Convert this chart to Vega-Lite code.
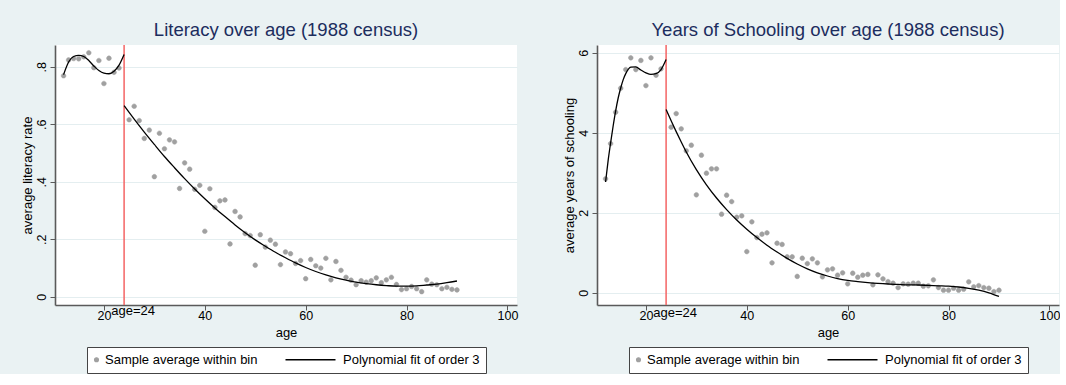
{
  "$schema": "https://vega.github.io/schema/vega-lite/v6.json",
  "background": "#EAF2F3",
  "padding": {"left": 21, "top": 20, "right": 0, "bottom": 0},
  "bounds": "flush",
  "spacing": 80,
  "resolve": {"scale": {"color": "independent", "shape": "independent"}, "legend": {"color": "independent", "shape": "independent"}},
  "config": {
    "font": "Liberation Sans",
    "view": {"fill": "white", "stroke": null},
    "title": {"font": "Liberation Sans", "fontSize": 18.5, "fontWeight": "normal", "color": "#1C2D5E", "anchor": "middle", "frame": "group", "offset": 5},
    "axis": {"labelFont": "Liberation Sans", "labelFontSize": 12.5, "labelColor": "black", "titleFont": "Liberation Sans", "titleFontSize": 13, "titleFontWeight": "normal", "titleColor": "black", "domainColor": "#5A5A5A", "domainWidth": 1.6, "tickColor": "#5A5A5A", "tickSize": 5, "tickWidth": 1},
    "axisX": {"grid": false, "labelPadding": -1, "titlePadding": 5},
    "axisY": {"grid": true, "gridColor": "#E4EEF0", "gridWidth": 1.2, "labelAngle": -90, "labelAlign": "center", "labelBaseline": "bottom", "labelPadding": 2, "titlePadding": 1},
    "legend": {"orient": "bottom", "direction": "horizontal", "labelFont": "Liberation Sans", "labelFontSize": 13, "labelColor": "black", "strokeColor": "#444444", "fillColor": "white", "padding": 6, "symbolSize": 100, "symbolStrokeWidth": 1.3, "symbolOffset": -3, "labelOffset": 2, "columnPadding": 24, "offset": 7, "layout": {"bottom": {"anchor": "middle"}}}
  },
  "datasets": {
    "lit_pts": [
      {"age": 12, "v": 0.769}, {"age": 13, "v": 0.824}, {"age": 14, "v": 0.829}, {"age": 15, "v": 0.828}, {"age": 16, "v": 0.835}, {"age": 17, "v": 0.849}, {"age": 18, "v": 0.797}, {"age": 19, "v": 0.822}, {"age": 20, "v": 0.742}, {"age": 21, "v": 0.830}, {"age": 22, "v": 0.781}, {"age": 23, "v": 0.796},
      {"age": 25, "v": 0.616}, {"age": 26, "v": 0.663}, {"age": 27, "v": 0.613}, {"age": 28, "v": 0.551}, {"age": 29, "v": 0.580}, {"age": 30, "v": 0.418}, {"age": 31, "v": 0.569}, {"age": 32, "v": 0.515}, {"age": 33, "v": 0.546}, {"age": 34, "v": 0.539},
      {"age": 35, "v": 0.377}, {"age": 36, "v": 0.466}, {"age": 37, "v": 0.444}, {"age": 38, "v": 0.374}, {"age": 39, "v": 0.388}, {"age": 40, "v": 0.228}, {"age": 41, "v": 0.376}, {"age": 42, "v": 0.311}, {"age": 43, "v": 0.334}, {"age": 44, "v": 0.337},
      {"age": 45, "v": 0.184}, {"age": 46, "v": 0.297}, {"age": 47, "v": 0.278}, {"age": 48, "v": 0.220}, {"age": 49, "v": 0.213}, {"age": 50, "v": 0.110}, {"age": 51, "v": 0.216}, {"age": 52, "v": 0.173}, {"age": 53, "v": 0.197}, {"age": 54, "v": 0.183},
      {"age": 55, "v": 0.112}, {"age": 56, "v": 0.156}, {"age": 57, "v": 0.150}, {"age": 58, "v": 0.116}, {"age": 59, "v": 0.126}, {"age": 60, "v": 0.063}, {"age": 61, "v": 0.130}, {"age": 62, "v": 0.108}, {"age": 63, "v": 0.100}, {"age": 64, "v": 0.134},
      {"age": 65, "v": 0.059}, {"age": 66, "v": 0.123}, {"age": 67, "v": 0.092}, {"age": 68, "v": 0.068}, {"age": 69, "v": 0.058}, {"age": 70, "v": 0.042}, {"age": 71, "v": 0.056}, {"age": 72, "v": 0.051}, {"age": 73, "v": 0.056}, {"age": 74, "v": 0.066},
      {"age": 75, "v": 0.049}, {"age": 76, "v": 0.059}, {"age": 77, "v": 0.068}, {"age": 78, "v": 0.043}, {"age": 79, "v": 0.025}, {"age": 80, "v": 0.028}, {"age": 81, "v": 0.036}, {"age": 82, "v": 0.028}, {"age": 83, "v": 0.018}, {"age": 84, "v": 0.059},
      {"age": 85, "v": 0.044}, {"age": 86, "v": 0.042}, {"age": 87, "v": 0.028}, {"age": 88, "v": 0.033}, {"age": 89, "v": 0.026}, {"age": 90, "v": 0.024}
    ],
    "lit_fit": [
      {"age": 12, "v": 0.773, "side": "below"}, {"age": 13, "v": 0.817, "side": "below"}, {"age": 14, "v": 0.836, "side": "below"}, {"age": 15, "v": 0.840, "side": "below"}, {"age": 16, "v": 0.836, "side": "below"}, {"age": 17, "v": 0.822, "side": "below"}, {"age": 18, "v": 0.803, "side": "below"}, {"age": 19, "v": 0.787, "side": "below"}, {"age": 20, "v": 0.778, "side": "below"}, {"age": 21, "v": 0.776, "side": "below"}, {"age": 22, "v": 0.785, "side": "below"}, {"age": 23, "v": 0.806, "side": "below"}, {"age": 24, "v": 0.843, "side": "below"},
      {"age": 24, "v": 0.665, "side": "above"}, {"age": 26, "v": 0.618, "side": "above"}, {"age": 28, "v": 0.573, "side": "above"}, {"age": 30, "v": 0.530, "side": "above"}, {"age": 32, "v": 0.488, "side": "above"}, {"age": 34, "v": 0.449, "side": "above"}, {"age": 36, "v": 0.411, "side": "above"}, {"age": 38, "v": 0.375, "side": "above"}, {"age": 40, "v": 0.341, "side": "above"}, {"age": 42, "v": 0.309, "side": "above"}, {"age": 44, "v": 0.279, "side": "above"}, {"age": 46, "v": 0.250, "side": "above"}, {"age": 48, "v": 0.223, "side": "above"}, {"age": 50, "v": 0.198, "side": "above"}, {"age": 52, "v": 0.176, "side": "above"}, {"age": 54, "v": 0.155, "side": "above"}, {"age": 56, "v": 0.136, "side": "above"}, {"age": 58, "v": 0.118, "side": "above"}, {"age": 60, "v": 0.102, "side": "above"}, {"age": 62, "v": 0.088, "side": "above"}, {"age": 64, "v": 0.076, "side": "above"}, {"age": 66, "v": 0.066, "side": "above"}, {"age": 68, "v": 0.058, "side": "above"}, {"age": 70, "v": 0.051, "side": "above"}, {"age": 72, "v": 0.046, "side": "above"}, {"age": 74, "v": 0.042, "side": "above"}, {"age": 76, "v": 0.039, "side": "above"}, {"age": 78, "v": 0.037, "side": "above"}, {"age": 80, "v": 0.037, "side": "above"}, {"age": 82, "v": 0.038, "side": "above"}, {"age": 84, "v": 0.041, "side": "above"}, {"age": 86, "v": 0.044, "side": "above"}, {"age": 88, "v": 0.049, "side": "above"}, {"age": 90, "v": 0.055, "side": "above"}
    ],
    "sch_pts": [
      {"age": 12, "v": 2.85}, {"age": 13, "v": 3.73}, {"age": 14, "v": 4.515}, {"age": 15, "v": 5.115}, {"age": 16, "v": 5.58}, {"age": 17, "v": 5.875}, {"age": 18, "v": 5.58}, {"age": 19, "v": 5.81}, {"age": 20, "v": 5.18}, {"age": 21, "v": 5.875}, {"age": 22, "v": 5.44}, {"age": 23, "v": 5.60},
      {"age": 25, "v": 4.14}, {"age": 26, "v": 4.48}, {"age": 27, "v": 4.10}, {"age": 28, "v": 3.55}, {"age": 29, "v": 3.69}, {"age": 30, "v": 2.45}, {"age": 31, "v": 3.44}, {"age": 32, "v": 2.99}, {"age": 33, "v": 3.10}, {"age": 34, "v": 3.10},
      {"age": 35, "v": 1.965}, {"age": 36, "v": 2.44}, {"age": 37, "v": 2.28}, {"age": 38, "v": 1.89}, {"age": 39, "v": 1.925}, {"age": 40, "v": 1.03}, {"age": 41, "v": 1.775}, {"age": 42, "v": 1.38}, {"age": 43, "v": 1.465}, {"age": 44, "v": 1.50},
      {"age": 45, "v": 0.75}, {"age": 46, "v": 1.24}, {"age": 47, "v": 1.21}, {"age": 48, "v": 0.90}, {"age": 49, "v": 0.90}, {"age": 50, "v": 0.41}, {"age": 51, "v": 0.865}, {"age": 52, "v": 0.73}, {"age": 53, "v": 0.85}, {"age": 54, "v": 0.75},
      {"age": 55, "v": 0.40}, {"age": 56, "v": 0.575}, {"age": 57, "v": 0.60}, {"age": 58, "v": 0.44}, {"age": 59, "v": 0.50}, {"age": 60, "v": 0.225}, {"age": 61, "v": 0.49}, {"age": 62, "v": 0.39}, {"age": 63, "v": 0.44}, {"age": 64, "v": 0.46},
      {"age": 65, "v": 0.20}, {"age": 66, "v": 0.45}, {"age": 67, "v": 0.35}, {"age": 68, "v": 0.28}, {"age": 69, "v": 0.24}, {"age": 70, "v": 0.13}, {"age": 71, "v": 0.225}, {"age": 72, "v": 0.215}, {"age": 73, "v": 0.24}, {"age": 74, "v": 0.24},
      {"age": 75, "v": 0.165}, {"age": 76, "v": 0.175}, {"age": 77, "v": 0.325}, {"age": 78, "v": 0.13}, {"age": 79, "v": 0.065}, {"age": 80, "v": 0.065}, {"age": 81, "v": 0.115}, {"age": 82, "v": 0.065}, {"age": 83, "v": 0.09}, {"age": 84, "v": 0.275},
      {"age": 85, "v": 0.15}, {"age": 86, "v": 0.18}, {"age": 87, "v": 0.13}, {"age": 88, "v": 0.115}, {"age": 89, "v": 0.03}, {"age": 90, "v": 0.065}
    ],
    "sch_fit": [
      {"age": 12, "v": 2.77, "side": "below"}, {"age": 12.5, "v": 3.30, "side": "below"}, {"age": 13, "v": 3.75, "side": "below"}, {"age": 13.5, "v": 4.17, "side": "below"}, {"age": 14, "v": 4.55, "side": "below"}, {"age": 14.5, "v": 4.87, "side": "below"}, {"age": 15, "v": 5.12, "side": "below"}, {"age": 15.5, "v": 5.33, "side": "below"}, {"age": 16, "v": 5.48, "side": "below"}, {"age": 17, "v": 5.64, "side": "below"}, {"age": 18, "v": 5.65, "side": "below"}, {"age": 19, "v": 5.57, "side": "below"}, {"age": 20, "v": 5.50, "side": "below"}, {"age": 21, "v": 5.46, "side": "below"}, {"age": 22, "v": 5.48, "side": "below"}, {"age": 23, "v": 5.58, "side": "below"}, {"age": 24, "v": 5.83, "side": "below"},
      {"age": 24, "v": 4.58, "side": "above"}, {"age": 25, "v": 4.30, "side": "above"}, {"age": 26, "v": 4.03, "side": "above"}, {"age": 27, "v": 3.77, "side": "above"}, {"age": 28, "v": 3.52, "side": "above"}, {"age": 30, "v": 3.08, "side": "above"}, {"age": 32, "v": 2.70, "side": "above"}, {"age": 34, "v": 2.37, "side": "above"}, {"age": 36, "v": 2.08, "side": "above"}, {"age": 38, "v": 1.82, "side": "above"}, {"age": 40, "v": 1.59, "side": "above"}, {"age": 42, "v": 1.38, "side": "above"}, {"age": 44, "v": 1.19, "side": "above"}, {"age": 46, "v": 1.02, "side": "above"}, {"age": 48, "v": 0.86, "side": "above"}, {"age": 50, "v": 0.72, "side": "above"}, {"age": 52, "v": 0.60, "side": "above"}, {"age": 54, "v": 0.50, "side": "above"}, {"age": 56, "v": 0.42, "side": "above"}, {"age": 58, "v": 0.355, "side": "above"}, {"age": 60, "v": 0.31, "side": "above"}, {"age": 62, "v": 0.28, "side": "above"}, {"age": 64, "v": 0.255, "side": "above"}, {"age": 66, "v": 0.235, "side": "above"}, {"age": 68, "v": 0.22, "side": "above"}, {"age": 70, "v": 0.21, "side": "above"}, {"age": 72, "v": 0.20, "side": "above"}, {"age": 74, "v": 0.195, "side": "above"}, {"age": 76, "v": 0.185, "side": "above"}, {"age": 78, "v": 0.175, "side": "above"}, {"age": 80, "v": 0.165, "side": "above"}, {"age": 82, "v": 0.145, "side": "above"}, {"age": 84, "v": 0.11, "side": "above"}, {"age": 86, "v": 0.065, "side": "above"}, {"age": 88, "v": 0.0, "side": "above"}, {"age": 90, "v": -0.09, "side": "above"}
    ]
  },
  "hconcat": [
    {
      "width": 462,
      "height": 260,
      "title": {"text": "Literacy over age (1988 census)"},
      "layer": [
        {
          "data": {"name": "lit_pts"},
          "mark": {"type": "point", "filled": false, "fill": "#A0A0A0", "fillOpacity": 1, "strokeWidth": 0.5, "size": 153, "opacity": 1},
          "encoding": {
            "x": {"field": "age", "type": "quantitative", "title": "age", "scale": {"domain": [10.3, 101.9], "nice": false, "zero": false}, "axis": {"values": [20, 40, 60, 80, 100]}},
            "y": {"field": "v", "type": "quantitative", "title": "average literacy rate", "scale": {"domain": [-0.0285, 0.876], "nice": false, "zero": false}, "axis": {"values": [0, 0.2, 0.4, 0.6, 0.8], "labelExpr": "datum.value == 0 ? '0' : substring(format(datum.value, '.1f'), 1)"}},
            "color": {"datum": "Sample average within bin", "type": "nominal", "scale": {"domain": ["Sample average within bin", "Polynomial fit of order 3"], "range": ["#A0A0A0", "black"]}, "legend": {"title": null, "labelExpr": "datum.label == 'Polynomial fit of order 3' ? datum.label + '\u00a0\u00a0' : datum.label"}},
            "shape": {"datum": "Sample average within bin", "type": "nominal", "scale": {"domain": ["Sample average within bin", "Polynomial fit of order 3"], "range": ["M-0.38,0A0.38,0.38 0 1,0 0.38,0A0.38,0.38 0 1,0 -0.38,0Z", "M-9.8,0H0.2"]}, "legend": {"title": null, "labelExpr": "datum.label == 'Polynomial fit of order 3' ? datum.label + '\u00a0\u00a0' : datum.label"}}
          }
        },
        {
          "data": {"values": [{"age": 24}]},
          "mark": {"type": "rule", "color": "#F46464", "strokeWidth": 1.5},
          "encoding": {"x": {"field": "age", "type": "quantitative"}}
        },
        {
          "data": {"name": "lit_fit"},
          "mark": {"type": "line", "strokeWidth": 1.3, "interpolate": "monotone", "color": "black"},
          "encoding": {
            "x": {"field": "age", "type": "quantitative", "title": "age"},
            "y": {"field": "v", "type": "quantitative", "title": "average literacy rate"},
            "detail": {"field": "side"}
          }
        },
        {
          "data": {"values": [{"age": 24, "label": "age=24"}]},
          "mark": {"type": "text", "fontSize": 13, "font": "Liberation Sans", "color": "black", "align": "center", "baseline": "middle", "dx": 9},
          "encoding": {
            "x": {"field": "age", "type": "quantitative"},
            "y": {"datum": -0.05, "type": "quantitative"},
            "text": {"field": "label"}
          }
        }
      ]
    },
    {
      "width": 462,
      "height": 260,
      "title": {"text": "Years of Schooling over age (1988 census)"},
      "layer": [
        {
          "data": {"name": "sch_pts"},
          "mark": {"type": "point", "filled": false, "fill": "#A0A0A0", "fillOpacity": 1, "strokeWidth": 0.5, "size": 153, "opacity": 1},
          "encoding": {
            "x": {"field": "age", "type": "quantitative", "title": "age", "scale": {"domain": [10.3, 101.9], "nice": false, "zero": false}, "axis": {"values": [20, 40, 60, 80, 100]}},
            "y": {"field": "v", "type": "quantitative", "title": "average years of schooling", "scale": {"domain": [-0.305, 6.195], "nice": false, "zero": false}, "axis": {"values": [0, 2, 4, 6]}},
            "color": {"datum": "Sample average within bin", "type": "nominal", "scale": {"domain": ["Sample average within bin", "Polynomial fit of order 3"], "range": ["#A0A0A0", "black"]}, "legend": {"title": null, "labelExpr": "datum.label == 'Polynomial fit of order 3' ? datum.label + '\u00a0\u00a0' : datum.label"}},
            "shape": {"datum": "Sample average within bin", "type": "nominal", "scale": {"domain": ["Sample average within bin", "Polynomial fit of order 3"], "range": ["M-0.38,0A0.38,0.38 0 1,0 0.38,0A0.38,0.38 0 1,0 -0.38,0Z", "M-9.8,0H0.2"]}, "legend": {"title": null, "labelExpr": "datum.label == 'Polynomial fit of order 3' ? datum.label + '\u00a0\u00a0' : datum.label"}}
          }
        },
        {
          "data": {"values": [{"age": 24}]},
          "mark": {"type": "rule", "color": "#F46464", "strokeWidth": 1.5},
          "encoding": {"x": {"field": "age", "type": "quantitative"}}
        },
        {
          "data": {"name": "sch_fit"},
          "mark": {"type": "line", "strokeWidth": 1.3, "interpolate": "monotone", "color": "black"},
          "encoding": {
            "x": {"field": "age", "type": "quantitative", "title": "age"},
            "y": {"field": "v", "type": "quantitative", "title": "average years of schooling"},
            "detail": {"field": "side"}
          }
        },
        {
          "data": {"values": [{"age": 24, "label": "age=24"}]},
          "mark": {"type": "text", "fontSize": 13, "font": "Liberation Sans", "color": "black", "align": "center", "baseline": "middle", "dx": 9},
          "encoding": {
            "x": {"field": "age", "type": "quantitative"},
            "y": {"datum": -0.5, "type": "quantitative"},
            "text": {"field": "label"}
          }
        }
      ]
    }
  ]
}
